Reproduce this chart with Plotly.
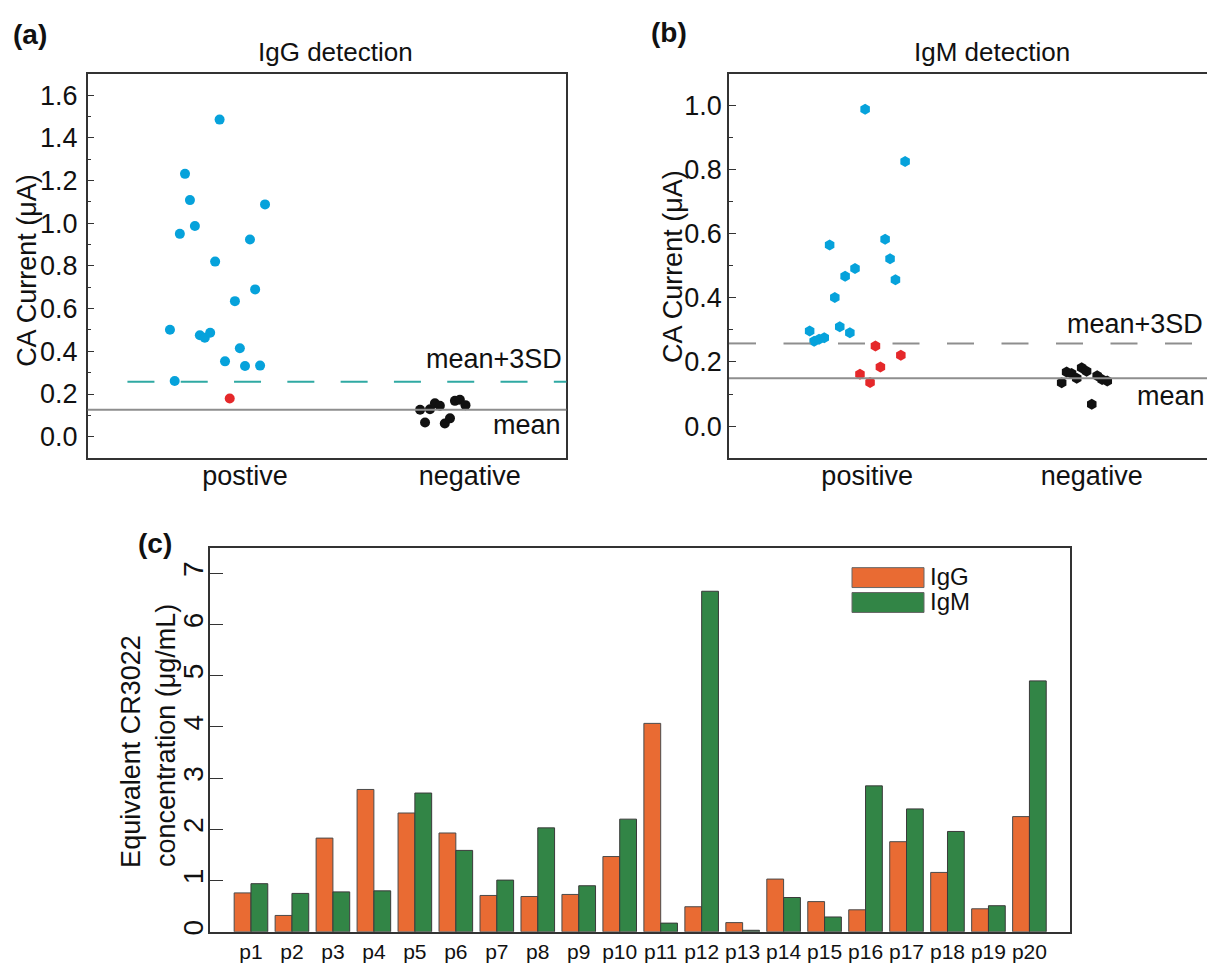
import plotly.graph_objects as go

# ---------------- Data ----------------
# Panel (a): IgG detection (CA current, uA); x = category position with jitter
a_pos_x = [0.887, 0.733, 0.755, 1.089, 0.710, 0.777, 1.022, 0.867, 1.045, 0.955,
           0.666, 0.799, 0.821, 0.845, 0.977, 0.911, 1.000, 1.067, 0.687]
a_pos_y = [1.485, 1.231, 1.108, 1.088, 0.950, 0.987, 0.924, 0.820, 0.690, 0.635,
           0.501, 0.475, 0.464, 0.487, 0.414, 0.353, 0.331, 0.333, 0.261]
a_below_x = [0.932]
a_below_y = [0.179]
a_neg_x = [1.779, 1.801, 1.823, 1.845, 1.867, 1.889, 1.912, 1.934, 1.956, 1.981]
a_neg_y = [0.126, 0.067, 0.129, 0.157, 0.145, 0.062, 0.086, 0.168, 0.173, 0.148]
a_mean = 0.126
a_mean3sd = 0.257
a_cats = ["postive", "negative"]

# Panel (b): IgM detection
b_pos_x = [0.991, 1.169, 0.833, 1.080, 1.102, 0.946, 0.902, 1.126, 0.856, 0.744,
           0.764, 0.786, 0.809, 0.878, 0.923]
b_pos_y = [0.989, 0.826, 0.565, 0.583, 0.522, 0.492, 0.468, 0.457, 0.401, 0.297,
           0.265, 0.271, 0.276, 0.310, 0.291]
b_below_x = [0.968, 1.013, 1.037, 1.059, 1.150]
b_below_y = [0.162, 0.136, 0.250, 0.184, 0.221]
b_neg_x = [1.866, 1.888, 1.910, 1.933, 1.955, 1.977, 2.000, 2.024, 2.046, 2.069]
b_neg_y = [0.135, 0.169, 0.164, 0.149, 0.182, 0.171, 0.068, 0.157, 0.145, 0.141]
b_mean = 0.149
b_mean3sd = 0.258
b_cats = ["positive", "negative"]

# Panel (c): equivalent CR3022 concentration (ug/mL)
patients = ["p%d" % i for i in range(1, 21)]
igg_conc = [0.76, 0.32, 1.83, 2.78, 2.32, 1.93, 0.71, 0.69, 0.73, 1.47,
            4.07, 0.49, 0.18, 1.03, 0.59, 0.43, 1.76, 1.16, 0.45, 2.25]
igm_conc = [0.94, 0.75, 0.78, 0.80, 2.71, 1.59, 1.01, 2.03, 0.90, 2.20,
            0.17, 6.65, 0.03, 0.67, 0.29, 2.85, 2.40, 1.96, 0.51, 4.90]

# ---------------- Styles ----------------
W, H = 1207, 967
FONT = "Liberation Sans, Arial, sans-serif"
BLUE = "#06A2DB"
RED = "#E5282A"
BLACK = "#111111"
TEAL = "#2FA9A3"
GRAY = "#8E8E8E"
ORANGE = "#E96B33"
GREEN = "#328546"
FRAME = "#333333"


def fx(p):
    return p / W


def fy(p):
    return 1 - p / H


fig = go.Figure()

# Panel (a)
fig.add_trace(go.Scatter(x=a_pos_x, y=a_pos_y, mode="markers", xaxis="x", yaxis="y",
                         marker=dict(color=BLUE, size=10, symbol="circle"), showlegend=False))
fig.add_trace(go.Scatter(x=a_below_x, y=a_below_y, mode="markers", xaxis="x", yaxis="y",
                         marker=dict(color=RED, size=10, symbol="circle"), showlegend=False))
fig.add_trace(go.Scatter(x=a_neg_x, y=a_neg_y, mode="markers", xaxis="x", yaxis="y",
                         marker=dict(color=BLACK, size=10, symbol="circle"), showlegend=False))

# Panel (b)
fig.add_trace(go.Scatter(x=b_pos_x, y=b_pos_y, mode="markers", xaxis="x2", yaxis="y2",
                         marker=dict(color=BLUE, size=11, symbol="hexagon"), showlegend=False))
fig.add_trace(go.Scatter(x=b_below_x, y=b_below_y, mode="markers", xaxis="x2", yaxis="y2",
                         marker=dict(color=RED, size=11, symbol="hexagon"), showlegend=False))
fig.add_trace(go.Scatter(x=b_neg_x, y=b_neg_y, mode="markers", xaxis="x2", yaxis="y2",
                         marker=dict(color=BLACK, size=11, symbol="hexagon"), showlegend=False))

# Panel (c)
fig.add_trace(go.Bar(x=patients, y=igg_conc, name="IgG", xaxis="x3", yaxis="y3",
                     marker=dict(color=ORANGE, line=dict(color="#4a4a4a", width=1)),
                     showlegend=False))
fig.add_trace(go.Bar(x=patients, y=igm_conc, name="IgM", xaxis="x3", yaxis="y3",
                     marker=dict(color=GREEN, line=dict(color="#3a3a3a", width=1)),
                     showlegend=False))

# Reference lines
shapes = [
    dict(type="line", xref="x domain", yref="y", x0=0, x1=1, y0=a_mean, y1=a_mean,
         line=dict(color=GRAY, width=2)),
    dict(type="line", xref="x domain", yref="y", x0=0.083, x1=1, y0=a_mean3sd, y1=a_mean3sd,
         line=dict(color=TEAL, width=2, dash="27px,26.3px")),
    dict(type="line", xref="x2 domain", yref="y2", x0=0, x1=1, y0=b_mean, y1=b_mean,
         line=dict(color=GRAY, width=2)),
    dict(type="line", xref="x2 domain", yref="y2", x0=0, x1=1, y0=b_mean3sd, y1=b_mean3sd,
         line=dict(color=GRAY, width=2, dash="27px,27.5px")),
]

# Manual legend for panel (c)
leg_items = [("IgG", ORANGE, 580), ("IgM", GREEN, 605)]
annotations = []
for name, col, yc in leg_items:
    shapes.append(dict(type="rect", xref="paper", yref="paper",
                       x0=fx(852), x1=fx(924), y0=fy(yc - 10), y1=fy(yc + 10),
                       fillcolor=col, line=dict(color="#666666", width=1)))
    annotations.append(dict(text=name, xref="paper", yref="paper", x=fx(929), y=fy(yc - 1),
                            xanchor="left", yanchor="middle", showarrow=False, borderpad=0,
                            font=dict(size=24, color="#111", family=FONT)))


# Text annotations
def ann(text, x, y, xa="center", ya="middle", size=26, bold=False, angle=0):
    annotations.append(dict(text=("<b>%s</b>" % text) if bold else text,
                            xref="paper", yref="paper", x=fx(x), y=fy(y),
                            xanchor=xa, yanchor=ya, showarrow=False, textangle=angle,
                            font=dict(size=size, color="#111", family=FONT)))


ann("(a)", 11, 35, xa="left", size=28, bold=True)
ann("(b)", 649, 33, xa="left", size=28, bold=True)
ann("(c)", 136, 546, xa="left", size=28, bold=True)
ann("IgG detection", 335, 52, size=26)
ann("IgM detection", 992, 52, size=26)
ann("mean+3SD", 564, 360, xa="right", size=27)
ann("mean", 563, 427, xa="right", size=27)
ann("mean+3SD", 1205, 325, xa="right", size=27)
ann("mean", 1207, 398, xa="right", size=27)
ann("CA Current (\u03bcA)", 27, 272, size=27, angle=-90)
ann("CA Current (\u03bcA)", 673, 268, size=27, angle=-90)
ann("Equivalent CR3022", 131, 755, size=27, angle=-90)
ann("concentration (\u03bcg/mL)", 166, 739, size=27, angle=-90)

axis_common = dict(showline=True, linecolor=FRAME, linewidth=1.5, showgrid=False,
                   zeroline=False)
tf = dict(size=27, color="#111", family=FONT)

fig.update_layout(
    width=W, height=H,
    margin=dict(l=0, r=0, t=0, b=0),
    paper_bgcolor="white", plot_bgcolor="white",
    font=dict(family=FONT, color="#111"),
    showlegend=False,
    barmode="group", bargap=0.18, bargroupgap=0,
    shapes=shapes, annotations=annotations,
    xaxis=dict(domain=[fx(87.7), fx(566.4)], range=[0.3, 2.43], tickvals=[1, 2],
               ticktext=a_cats, ticks="", mirror=True, anchor="y", tickfont=tf,
               ticklabelstandoff=-7, **axis_common),
    yaxis=dict(domain=[fy(460), fy(74)], range=[-0.1, 1.7], tick0=0, dtick=0.2,
               tickformat=".1f", ticks="inside", ticklen=7, tickcolor=FRAME, tickwidth=1.2,
               minor=dict(ticks="inside", ticklen=4, dtick=0.1, tickcolor=FRAME),
               mirror=True, anchor="x", tickfont=tf, ticklabelstandoff=3, **axis_common),
    xaxis2=dict(domain=[fx(729), 1.0], range=[0.385, 2.513], tickvals=[1, 2],
                ticktext=b_cats, ticks="", mirror=True, anchor="y2", tickfont=tf,
                ticklabelstandoff=-7, **axis_common),
    yaxis2=dict(domain=[fy(460), fy(74)], range=[-0.1, 1.1], tick0=0, dtick=0.2,
                tickformat=".1f", ticks="inside", ticklen=7, tickcolor=FRAME, tickwidth=1.2,
                minor=dict(ticks="inside", ticklen=4, dtick=0.1, tickcolor=FRAME),
                mirror=False, anchor="x2", tickfont=tf, **axis_common),
    xaxis3=dict(domain=[fx(210), fx(1070.4)], type="category", range=[-1, 20],
                ticks="", mirror=True, anchor="y3",
                tickfont=dict(size=21, color="#111", family=FONT), **axis_common),
    yaxis3=dict(domain=[fy(935.7), fy(550)], range=[0, 7.5], tick0=0, dtick=1,
                ticks="inside", ticklen=13, tickcolor=FRAME, tickwidth=1.2, tickangle=-90,
                mirror=True, anchor="x3", tickfont=dict(size=28, color="#111", family=FONT),
                ticklabelstandoff=-6, **axis_common),
)

fig.write_html("out.html")
